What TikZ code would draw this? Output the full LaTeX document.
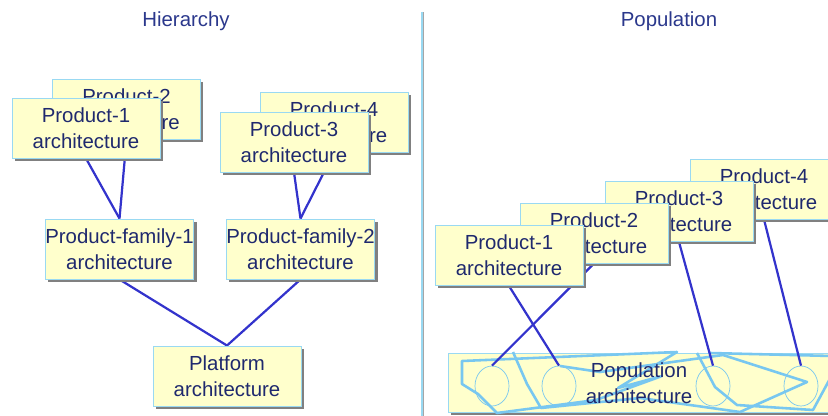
\documentclass[tikz,border=0pt]{standalone}
\usepackage{fontspec}
\setmainfont{Liberation Sans}
\usepackage{xcolor}
\usetikzlibrary{
	shadows,
	shapes,
}
\definecolor{boxfill}{rgb}{1.0, 1.0, 0.8}
\definecolor{boxline}{rgb}{0.6, 0.85, 0.95}
\definecolor{scribble}{rgb}{0.47, 0.78, 0.94}
\definecolor{linkblue}{rgb}{0.2, 0.2, 0.8}
\definecolor{textnavy}{rgb}{0.12, 0.16, 0.43}
\definecolor{titleblue}{rgb}{0.17, 0.22, 0.55}
\pgfdeclarelayer{back}
\pgfdeclarelayer{edges}
\pgfsetlayers{back,edges,main}

\begin{document}
\begin{tikzpicture}[x=0.03cm, y=-0.03cm,
	arch/.style={draw=boxline, fill=boxfill, line width=0.8pt, minimum width=4.44cm, minimum height=1.8cm, inner sep=0pt, align=center, text=textnavy, font=\fontsize{17.4}{22}\selectfont,
		drop shadow={shadow xshift=2.5pt, shadow yshift=-2.5pt, fill=gray, opacity=1}},
	link/.style={draw=linkblue, line width=1.9pt},
	scrib/.style={draw=scribble, line width=2.2pt, line join=round},
	member/.style={ellipse, draw=scribble, line width=0.6pt, minimum width=1.02cm, minimum height=1.2cm, inner sep=0pt},
	title/.style={text=titleblue, font=\fontsize{17.4}{20}\selectfont}]
\useasboundingbox (0,0) rectangle (828,416);
\clip (0,0) rectangle (828,416);

% titles
\node[title] (hiertitle) at (186,21) {Hierarchy};
\node[title] (poptitle) at (669,21) {Population};

% divider
\coordinate (divtop) at (422,12);
\coordinate (divbot) at (422,416);
\draw[gray!70, line width=0.9pt] ([xshift=1.6] divtop) -- ([xshift=1.6] divbot);
\draw[boxline, line width=0.9pt] (divtop) -- (divbot);

%% hierarchy
\node[arch] (hprod2) at (126.5,109) {Product-2\\architecture};
\node[arch] (hprod1) at (86,128) {Product-1\\architecture};
\node[arch] (hprod4) at (334,122) {Product-4\\architecture};
\node[arch] (hprod3) at (294,142) {Product-3\\architecture};
\node[arch] (family1) at (119.5,249) {Product-family-1\\architecture};
\node[arch] (family2) at (300.5,249) {Product-family-2\\architecture};
\node[arch] (platform) at (227,376) {Platform\\architecture};

\begin{pgfonlayer}{edges}
\draw[link] (hprod1.south) -- (family1.north);
\draw[link] (hprod2.south) -- (family1.north);
\draw[link] (hprod3.south) -- (family2.north);
\draw[link] (hprod4.south) -- (family2.north);
\draw[link] (family1.south) -- (platform.north);
\draw[link] (family2.south) -- (platform.north);
\end{pgfonlayer}

%% population
\begin{pgfonlayer}{back}
\node[arch, minimum width=12.3cm, minimum height=1.77cm] (popbox) at (653,382.5) {};
% integration scribble
\draw[scrib] (462,361) -- (677,352) -- (618,388) -- (662,376) -- (596,400) -- (497,413) -- (478,394) -- (462,384) -- cycle;
\draw[scrib] (513,352) -- (527,384) -- (541,408) -- (640,398) -- (740,412) -- (807,382) -- (723,355) -- (600,372) -- (560,366);
\draw[scrib] (697,353) -- (715,387) -- (737,405) -- (813,410) -- (832,375);
\draw[scrib] (710,353) -- (832,356);
\node[member] (mem1) at (492,386) {};
\node[member] (mem2) at (559,386) {};
\node[member] (mem3) at (713,386) {};
\node[member] (mem4) at (801,386) {};
\node[align=center, text=textnavy, font=\fontsize{17.4}{22}\selectfont] (poplabel) at (639,383) {Population\\architecture};
\end{pgfonlayer}

\node[arch] (pprod4) at (764,189) {Product-4\\architecture};
\node[arch] (pprod3) at (679,211.5) {Product-3\\architecture};
\node[arch] (pprod2) at (594,233) {Product-2\\architecture};
\node[arch] (pprod1) at (509,255.5) {Product-1\\architecture};

\begin{pgfonlayer}{edges}
\draw[link] (pprod1.south) -- (mem2.north);
\draw[link] (pprod2.south) -- (mem1.north);
\draw[link] (pprod3.south) -- (mem3.north);
\draw[link] (pprod4.south) -- (mem4.north);
\end{pgfonlayer}
\end{tikzpicture}
\end{document}
